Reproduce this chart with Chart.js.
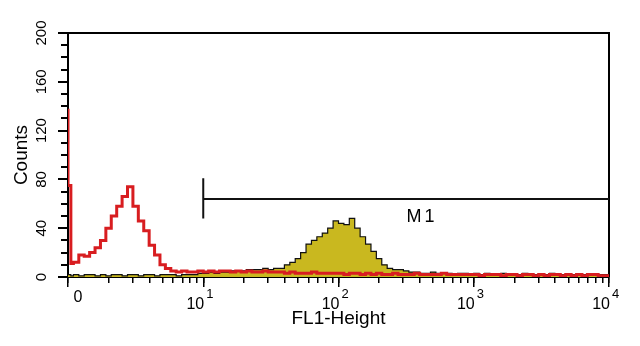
<!DOCTYPE html>
<html>
<head>
<meta charset="utf-8">
<script src="https://cdn.jsdelivr.net/npm/chart.js@4.4.0/dist/chart.umd.min.js"></script>
<style>
  html, body { margin: 0; padding: 0; background: #fff; }
  #wrap { width: 640px; height: 346px; }
</style>
</head>
<body>
<div id="wrap"><canvas id="histo"></canvas></div>
<script>
// FL1 channel starts (log spaced)
const channels = [
  1.000, 1.050,
  1.096, 1.202, 1.318, 1.445, 1.585, 1.738, 1.905, 2.089, 2.291, 2.512, 2.754, 3.020,
  3.311, 3.631, 3.981, 4.365, 4.786, 5.248, 5.754, 6.310, 6.918, 7.586, 8.318, 9.120,
  10.00, 10.96, 12.02, 13.18, 14.45, 15.85, 17.38, 19.05, 20.89, 22.91, 25.12, 27.54, 30.20,
  33.11, 36.31, 39.81, 43.65, 47.86, 52.48, 57.54, 63.10, 69.18, 75.86, 83.18, 91.20,
  100.0, 109.6, 120.2, 131.8, 144.5, 158.5, 173.8, 190.5, 208.9, 229.1, 251.2, 275.4, 302.0,
  331.1, 363.1, 398.1, 436.5, 478.6, 524.8, 575.4, 631.0, 691.8, 758.6, 831.8, 912.0,
  1000, 1096, 1202, 1318, 1445, 1585, 1738, 1905, 2089, 2291, 2512, 2754, 3020,
  3311, 3631, 3981, 4365, 4786, 5248, 5754, 6310, 6918, 7586, 8318, 9120,
  10000
];

// unstained / control (red outline)
const redCounts = [
  138, 75,
  11, 12, 18, 17, 20, 24, 30, 40, 50, 58, 66, 74,
  58, 46, 38, 26, 18, 10, 7, 5, 4, 5, 4, 4,
  5, 4, 5, 4, 5, 5, 4, 5, 4, 5, 4, 4, 5,
  4, 4, 4, 3, 4, 3, 3, 3, 4, 3, 3, 3,
  3, 3, 2, 3, 3, 2, 3, 2, 3, 2, 2, 3, 2,
  2, 2, 3, 2, 2, 2, 2, 3, 2, 2, 2, 2,
  2, 2, 1, 2, 2, 2, 1, 2, 2, 1, 2, 2, 1,
  2, 1, 2, 2, 1, 2, 1, 2, 1, 2, 2, 1,
  1
];

// stained sample (filled yellow)
const stainedCounts = [
  2, 2,
  1, 2, 1, 2, 2, 1, 2, 1, 2, 2, 1, 2,
  2, 1, 2, 2, 1, 2, 2, 2, 1, 2, 2, 2,
  3, 3, 4, 3, 4, 4, 5, 5, 5, 6, 6, 6, 7,
  6, 7, 7, 10, 12, 15, 20, 27, 30, 33, 36, 40,
  46, 44, 43, 48, 40, 33, 27, 21, 15, 10, 7, 6, 6,
  5, 4, 4, 3, 3, 4, 3, 3, 3, 2, 3, 3,
  2, 3, 2, 3, 2, 2, 3, 2, 2, 2, 3, 2, 2,
  2, 2, 3, 2, 2, 2, 2, 2, 2, 2, 2, 2,
  2
];

// M1 marker
const gateX = [10, 10, 10, 10000];
const gateY = [81, 48, 64, 64];
const gateLabel = 'M1';
const gateLabelAt = [414, 49];

// axis ticks
const xTicks = [1, 2, 3, 4, 5, 6, 7, 8, 9, 10, 20, 30, 40, 50, 60, 70, 80, 90,
  100, 200, 300, 400, 500, 600, 700, 800, 900, 1000, 2000, 3000, 4000, 5000,
  6000, 7000, 8000, 9000, 10000];
const xDecades = [1, 10, 100, 1000, 10000];
const xDecadeExp = ['', '1', '2', '3', '4'];

const FONT = "'Liberation Sans', Arial, sans-serif";

function toPoints(xs, ys) {
  return xs.map((x, i) => ({ x: x, y: ys[i] }));
}

const frameAndLabels = {
  id: 'frameAndLabels',
  beforeDatasetsDraw(chart) {
    const { ctx, chartArea } = chart;
    ctx.save();
    ctx.strokeStyle = '#000';
    ctx.lineWidth = 2;
    ctx.beginPath();
    ctx.moveTo(chartArea.left, chartArea.top);
    ctx.lineTo(chartArea.right, chartArea.top);
    ctx.lineTo(chartArea.right, chartArea.bottom);
    ctx.stroke();
    ctx.restore();
  },
  afterDraw(chart) {
    const { ctx } = chart;
    const xs = chart.scales.x;
    const ys = chart.scales.y;
    ctx.save();
    ctx.fillStyle = '#000';
    ctx.textBaseline = 'alphabetic';
    xDecades.forEach((v, i) => {
      const px = xs.getPixelForValue(v);
      if (xDecadeExp[i] === '') {
        ctx.font = '16px ' + FONT;
        ctx.textAlign = 'center';
        ctx.fillText('0', px + 10, 302);
      } else {
        ctx.font = '16px ' + FONT;
        ctx.textAlign = 'right';
        ctx.fillText('10', px + 1, 309);
        ctx.font = '13px ' + FONT;
        ctx.textAlign = 'left';
        ctx.fillText(xDecadeExp[i], px + 3, 298);
      }
    });
    ctx.font = '18px ' + FONT;
    ctx.textAlign = 'center';
    ctx.textBaseline = 'middle';
    if ('letterSpacing' in ctx) ctx.letterSpacing = '3px';
    ctx.fillText(gateLabel, xs.getPixelForValue(gateLabelAt[0]), ys.getPixelForValue(gateLabelAt[1]));
    ctx.restore();
  }
};

const ctx = document.getElementById('histo').getContext('2d');
new Chart(ctx, {
  type: 'line',
  data: {
    datasets: [
      {
        label: 'Control',
        data: toPoints(channels, redCounts),
        stepped: 'after',
        borderColor: '#d81d20',
        borderWidth: 3,
        pointRadius: 0,
        fill: false
      },
      {
        label: 'Stained',
        data: toPoints(channels, stainedCounts),
        stepped: 'after',
        borderColor: '#111',
        borderWidth: 1.2,
        backgroundColor: '#c9b81f',
        pointRadius: 0,
        fill: 'origin'
      },
      {
        label: 'M1',
        data: toPoints(gateX, gateY),
        borderColor: '#111',
        borderWidth: 2,
        pointRadius: 0,
        fill: false
      }
    ]
  },
  options: {
    responsive: true,
    maintainAspectRatio: false,
    animation: false,
    devicePixelRatio: 1,
    layout: { padding: { top: 33, right: 31, left: 0, bottom: 0 } },
    plugins: { legend: { display: false }, tooltip: { enabled: false } },
    scales: {
      x: {
        type: 'logarithmic',
        position: 'bottom',
        weight: 1,
        min: 1,
        max: 10000,
        afterBuildTicks: (s) => { s.ticks = xTicks.map(v => ({ value: v })); },
        afterFit: (s) => { s.height = 69; },
        border: { display: true, color: '#000', width: 2, z: -1 },
        grid: { drawOnChartArea: false, drawTicks: true, tickLength: 6, color: '#000', lineWidth: 1.5 },
        ticks: { display: false, autoSkip: false },
        title: {
          display: true,
          text: 'FL1-Height',
          color: '#000',
          font: { family: FONT, size: 19 },
          padding: { top: 0, bottom: 16 }
        }
      },
      xDecade: {
        type: 'logarithmic',
        position: 'bottom',
        weight: 0,
        min: 1,
        max: 10000,
        afterBuildTicks: (s) => { s.ticks = xDecades.map(v => ({ value: v })); },
        afterFit: (s) => { s.height = 0; },
        border: { display: false },
        grid: { drawOnChartArea: false, drawTicks: true, tickLength: 10, color: '#000', lineWidth: 1.5 },
        ticks: { display: false }
      },
      y: {
        type: 'linear',
        position: 'left',
        weight: 1,
        min: 0,
        max: 200,
        afterFit: (s) => { s.width = 68; },
        border: { display: true, color: '#000', width: 2, z: -1 },
        grid: { drawOnChartArea: false, drawTicks: true, tickLength: 10, color: '#000', lineWidth: 2 },
        ticks: {
          stepSize: 40,
          minRotation: 90,
          maxRotation: 90,
          crossAlign: 'center',
          padding: 4,
          color: '#000',
          font: { family: FONT, size: 15 }
        },
        title: {
          display: true,
          text: 'Counts',
          color: '#000',
          font: { family: FONT, size: 19 },
          padding: { top: 10, bottom: 0 }
        }
      },
      yMinor: {
        type: 'linear',
        position: 'left',
        weight: 0,
        min: 0,
        max: 200,
        afterFit: (s) => { s.width = 0; },
        border: { display: false },
        grid: { drawOnChartArea: false, drawTicks: true, tickLength: 7, color: '#000', lineWidth: 2 },
        ticks: { stepSize: 10, display: false }
      }
    }
  },
  plugins: [frameAndLabels]
});
</script>
</body>
</html>
